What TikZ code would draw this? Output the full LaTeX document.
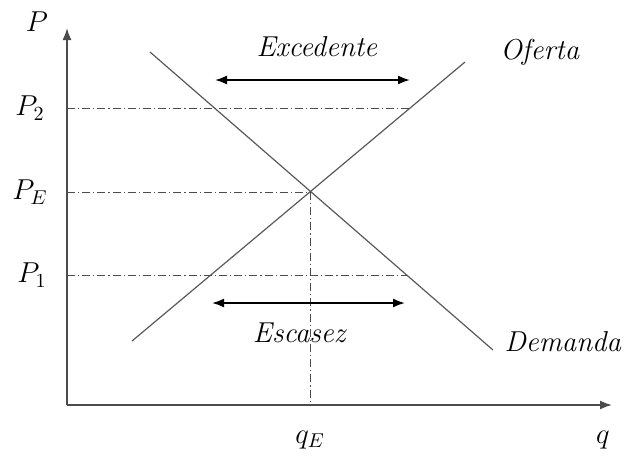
\documentclass[tikz,border=0pt]{standalone}
\usetikzlibrary{arrows.meta}
\begin{document}
\begin{tikzpicture}[x=0.5pt,y=-0.5pt,font=\Large,
    axis/.style={gray!60!black, line width=0.8pt, -{Latex[length=6pt,width=4.5pt]}},
    curve/.style={gray!70!black, line width=0.6pt},
    guide/.style={gray!60!black, line width=0.5pt, dash pattern=on 4pt off 1.5pt on 0.6pt off 1.5pt},
    span/.style={line width=0.9pt, {Latex[length=6pt,width=4.5pt]}-{Latex[length=6pt,width=4.5pt]}}]
    \useasboundingbox (0,0) rectangle (626,457);

    % axes
    \coordinate (O) at (67,405);
    \coordinate (ytop) at (67,28);
    \coordinate (xend) at (612,405);
    \draw[axis] (O) -- (ytop);
    \draw[axis] (O) -- (xend);

    % demand and supply
    \coordinate (d1) at (150,52);
    \coordinate (d2) at (493,350);
    \coordinate (s1) at (132,341);
    \coordinate (s2) at (465,62);
    \coordinate (E) at (310,192);
    \draw[curve] (d1) -- (d2);
    \draw[curve] (s1) -- (s2);

    % price levels
    \coordinate (y2) at (67,108);
    \coordinate (yE) at (67,192);
    \coordinate (y1) at (67,275);
    \coordinate (p2) at (410,108);
    \coordinate (p1) at (407,275);
    \coordinate (qE) at (310,405);
    \draw[guide] (y2) -- (p2);
    \draw[guide] (yE) -- (E);
    \draw[guide] (y1) -- (p1);
    \draw[guide] (E) -- (qE);

    % surplus and shortage
    \coordinate (x1) at (215,80);
    \coordinate (x2) at (410,80);
    \coordinate (e1) at (212,303);
    \coordinate (e2) at (405,303);
    \draw[span] (x1) -- (x2);
    \draw[span] (e1) -- (e2);

    \node (lblP) at (37,22) {$P$};
    \node (lblP2) at (30,108) {$P_2$};
    \node (lblPE) at (30,192) {$P_E$};
    \node (lblP1) at (32,275) {$P_1$};
    \node (lblqE) at (310,440) {$q_E$};
    \node (lblq) at (603,440) {$q$};
    \node (lblexc) at (317,47) {\textit{Excedente}};
    \node (lblesc) at (300,333) {\textit{Escasez}};
    \node (lblof) at (540,52) {\textit{Oferta}};
    \node (lbldem) at (563,342) {\textit{Demanda}};
\end{tikzpicture}
\end{document}
